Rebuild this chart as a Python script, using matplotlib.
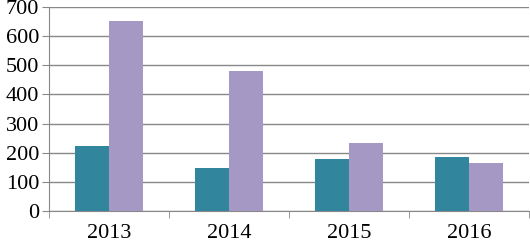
import matplotlib
matplotlib.use("Agg")
import matplotlib.pyplot as plt
import numpy as np

years = ["2013", "2014", "2015", "2016"]
series_a = [222, 148, 179, 185]
series_b = [652, 480, 232, 165]
yticks = [0, 100, 200, 300, 400, 500, 600, 700]

plt.rcParams['font.family'] = ['Liberation Serif', 'DejaVu Serif']

fig = plt.figure(figsize=(5.3, 2.44), dpi=100)
ax = fig.add_axes([49/530, 1-211/244, 480/530, 204/244])

x = np.arange(len(years))
w = 0.283
ax.bar(x - w/2, series_a, w, color="#31859C", zorder=3)
ax.bar(x + w/2, series_b, w, color="#A598C4", zorder=3)

ax.set_xlim(-0.5, 3.5)
ax.set_ylim(0, 700)
ax.set_yticks(yticks)
ax.yaxis.grid(True, color="#888888", linewidth=1.0, zorder=0)
ax.set_axisbelow(True)
ax.set_xticks(x)
ax.set_xticklabels(years)
ax.set_xticks(np.arange(-0.5, 4.0, 1.0), minor=True)
ax.tick_params(axis='x', which='major', length=0, labelsize=16, pad=9)
ax.tick_params(axis='x', which='minor', length=5, color="#888888")
ax.tick_params(axis='y', length=5, color="#888888", labelsize=16, pad=2)
for s in ['top', 'right']:
    ax.spines[s].set_visible(False)
for s in ['left', 'bottom']:
    ax.spines[s].set_color("#888888")

fig.savefig("out.png", dpi=100)
